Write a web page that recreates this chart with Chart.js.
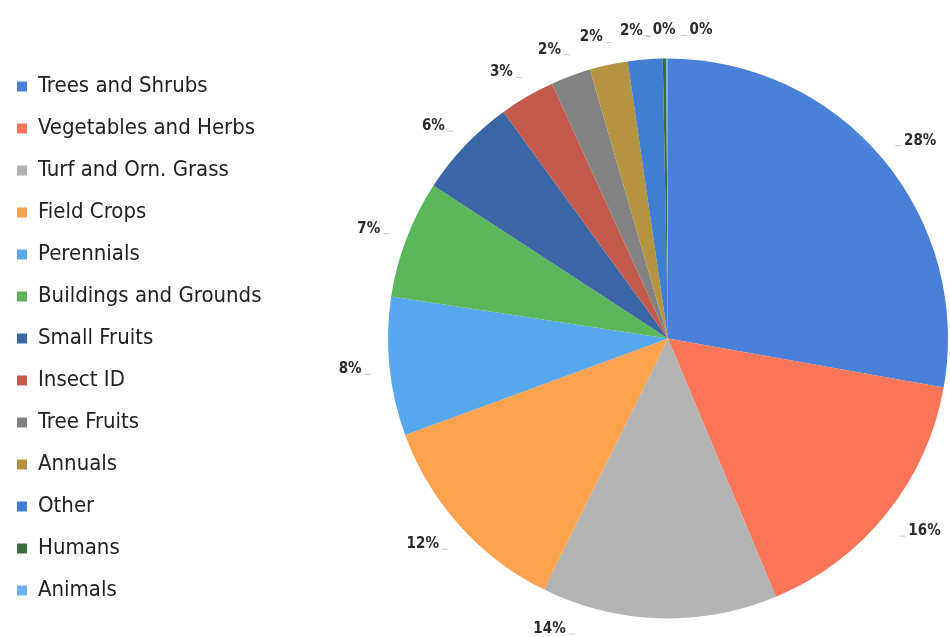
<!DOCTYPE html>
<html>
<head>
<meta charset="utf-8">
<script src="https://cdn.jsdelivr.net/npm/chart.js@4.4.1/dist/chart.umd.min.js"></script>
<style>
html, body { margin: 0; padding: 0; background: #fff; }
#wrap { width: 950px; height: 637px; }
</style>
</head>
<body>
<div id="wrap"><canvas id="pie"></canvas></div>
<script>
var categories = [
	'Trees and Shrubs', 'Vegetables and Herbs', 'Turf and Orn. Grass', 'Field Crops',
	'Perennials', 'Buildings and Grounds', 'Small Fruits', 'Insect ID',
	'Tree Fruits', 'Annuals', 'Other', 'Humans', 'Animals'
];
var shares = [27.8, 15.9, 13.6, 12.1, 8.0, 6.8, 5.8, 3.2, 2.3, 2.2, 2.0, 0.2, 0.1];
var sliceColors = [
	'#4a80d8', '#fb7658', '#b3b3b3', '#fda24e', '#57a8ee', '#5cb65a', '#3b66a6',
	'#c45a4e', '#828282', '#b49440', '#3f7ed0', '#3e6e3f', '#6bb0f2'
];

var FONT = "'Liberation Sans Narrow', 'DejaVu Sans Condensed', Roboto, sans-serif";

// legend takes a fixed strip on the left so the pie sits where it does in the picture
var legendStrip = {
	id: 'legendStrip',
	beforeInit: function (chart) {
		var legend = chart.legend;
		var fit = legend.fit;
		legend.fit = function () {
			fit.call(legend);
			legend.width = 389;
		};
	}
};

// percentage labels outside the slices, with a small leader stub
var percentLabels = {
	id: 'percentLabels',
	afterDatasetsDraw: function (chart) {
		var ctx = chart.ctx;
		var meta = chart.getDatasetMeta(0);
		var total = shares.reduce(function (a, b) { return a + b; }, 0);
		var maxY = chart.height - 8;
		var prev = null;

		ctx.save();
		ctx.font = 'bold 15px ' + FONT;
		ctx.textBaseline = 'middle';

		meta.data.forEach(function (arc, i) {
			var p = arc.getProps(['x', 'y', 'startAngle', 'endAngle', 'outerRadius'], true);
			var mid = (p.startAngle + p.endAngle) / 2;
			var dist = p.outerRadius + 28;
			var ax = p.x + Math.cos(mid) * dist;
			var ay = p.y + Math.sin(mid) * dist;
			if (ay > maxY) {
				// slide along the circle until it fits in the canvas
				var a = Math.asin((maxY - p.y) / dist);
				mid = Math.cos(mid) < 0.2 ? Math.PI - a : a;
				ax = p.x + Math.cos(mid) * dist;
				ay = maxY;
			}
			var text = Math.round(shares[i] / total * 100) + '%';
			var w = ctx.measureText(text).width;
			var c = Math.cos(mid);
			var left;
			if (Math.abs(c) < 0.05) {
				left = ax - w / 2;
			} else if (c > 0) {
				left = ax;
			} else {
				left = ax - w;
			}
			var stubLeft = c < 0 && Math.abs(c) >= 0.05;
			if (prev && left < prev.right + 8 && Math.abs(ay - prev.y) < 16) {
				left = prev.right + 14;
				stubLeft = false;
			}

			ctx.fillStyle = '#2b2b2b';
			ctx.textAlign = 'left';
			ctx.fillText(text, left, ay);

			ctx.strokeStyle = '#c8c8c8';
			ctx.lineWidth = 1;
			ctx.beginPath();
			if (stubLeft) {
				ctx.moveTo(left + w + 3, ay + 5);
				ctx.lineTo(left + w + 9, ay + 5);
			} else if (Math.abs(c) >= 0.05 || (prev && left > prev.right)) {
				ctx.moveTo(left - 9, ay + 5);
				ctx.lineTo(left - 3, ay + 5);
			}
			ctx.stroke();

			prev = { right: left + w, y: ay };
		});
		ctx.restore();
	}
};

var ctx = document.getElementById('pie').getContext('2d');
var chart = new Chart(ctx, {
	type: 'pie',
	data: {
		labels: categories,
		datasets: [{
			data: shares,
			backgroundColor: sliceColors,
			borderWidth: 0,
			radius: 280
		}]
	},
	options: {
		responsive: true,
		maintainAspectRatio: false,
		animation: false,
		layout: {
			padding: { top: 40, bottom: 0, left: -3, right: 0 }
		},
		plugins: {
			legend: {
				position: 'left',
				align: 'center',
				labels: {
					boxWidth: 10,
					boxHeight: 10,
					padding: 20,
					color: '#222',
					font: { family: FONT, size: 22 }
				}
			},
			tooltip: { enabled: false }
		}
	},
	plugins: [legendStrip, percentLabels]
});
</script>
</body>
</html>
